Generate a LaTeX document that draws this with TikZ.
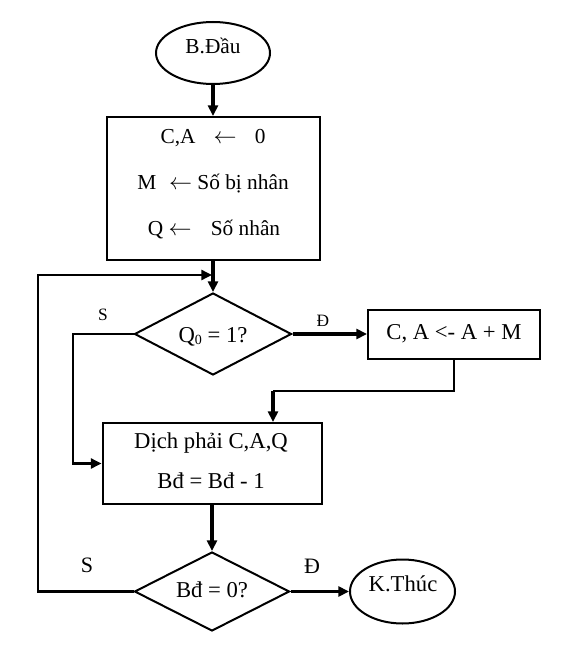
\documentclass[tikz,border=0pt]{standalone}
\usepackage{fontspec}
\setmainfont{Liberation Serif}
\usetikzlibrary{shapes.geometric,arrows.meta}
\begin{document}
\begin{tikzpicture}[x=0.75pt,y=-0.75pt,
  box/.style={draw,line width=1.5pt,rectangle,inner sep=0pt},
  dia/.style={draw,line width=1.5pt,diamond,inner sep=0pt},
  oval/.style={draw,line width=1.5pt,ellipse,inner sep=0pt},
  tip/.style={-{Triangle[length=8pt,width=7.5pt]}},
  arr/.style={line width=2.4pt,tip},
  ln/.style={line width=1.8pt},
  big/.style={font=\fontsize{17}{19}\selectfont,anchor=base,inner sep=0pt},
  mid/.style={font=\fontsize{16}{18}\selectfont,anchor=base,inner sep=0pt},
  lab/.style={font=\fontsize{13}{15}\selectfont,anchor=base,inner sep=0pt},
  labbig/.style={font=\fontsize{16.5}{18}\selectfont,anchor=base,inner sep=0pt},
]
\useasboundingbox (0,0) rectangle (572,670);
% start
\node[oval,minimum width=85.5pt,minimum height=46.5pt] (start) at (213,53) {};
\node[mid] (starttxt) at (213,54) {B.Đầu};
% init box
\node[box,minimum width=159.75pt,minimum height=107.25pt] (init) at (213,188.5) {};
\node[mid] (l1) at (213,144) {C,A\hspace{0.85em}$\leftarrow$\hspace{0.85em}0};
\node[mid] (l2) at (213,190) {M\hspace{0.6em}$\leftarrow$ Số bị nhân};
\node[mid] (l3) at (214,235) {Q $\leftarrow$\hspace{0.9em}Số nhân};
% decision 1
\node[dia,minimum width=117.75pt,minimum height=61.5pt] (d1) at (213,334) {};
\node[big] (d1txt) at (213,342) {Q\raisebox{-0.25ex}{\fontsize{10.5}{10}\selectfont 0} = 1?};
% add box
\node[box,minimum width=129pt,minimum height=36.75pt,big,anchor=center] (add) at (454,334) {C, A <- A + M};
% shift box
\node[box,minimum width=164.25pt,minimum height=60.75pt] (shift) at (212,463.5) {};
\node[big] (s1) at (211,448) {Dịch phải C,A,Q};
\node[big] (s2) at (211,488) {Bđ = Bđ - 1};
% decision 2
\node[dia,minimum width=116.25pt,minimum height=59.25pt] (d2) at (212,591.5) {};
\node[big] (d2txt) at (212,597) {Bđ = 0?};
% end
\node[oval,minimum width=78.75pt,minimum height=48pt] (end) at (402.5,591.5) {};
\node[big] (endtxt) at (403,591) {K.Thúc};
% labels
\node[lab] (ls1) at (103,320) {S};
\node[lab] (ld1) at (323,326) {Đ};
\node[labbig] (ls2) at (87,572) {S};
\node[labbig] (ld2) at (312,573) {Đ};
% coordinates
\coordinate (m) at (212,275);
\coordinate (sl) at (73,334);
\coordinate (j1) at (273,391);
\coordinate (lc) at (38,591.5);
% connectors
\draw[arr] (start.south) -- (start.south |- init.north);
\draw[arr] (init.south) -- (d1.north);
\draw[arr] (d1.east) -- (add.west);
\draw[ln,tip] (d1.west) -- (sl) |- (shift.west);
\draw[ln] (add.south) |- (j1);
\draw[arr] (j1) -- (j1 |- shift.north);
\draw[arr] (shift.south) -- (d2.north);
\draw[arr] (d2.east) -- (end.west);
\draw[ln,tip] (d2.west) -- (lc) |- (m);
\end{tikzpicture}
\end{document}
